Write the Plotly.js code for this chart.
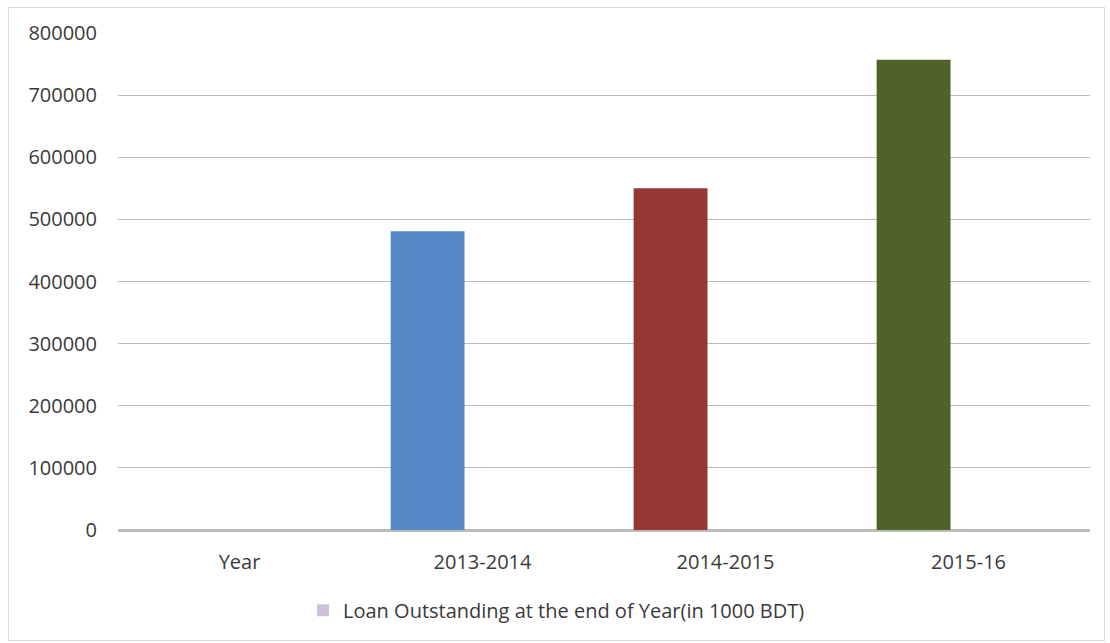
<!DOCTYPE html>
<html>
<head>
<meta charset="utf-8">
<script src="https://cdn.plot.ly/plotly-3.0.1.min.js"></script>
<style>
html,body{margin:0;padding:0;background:#fff;}
#wrap{position:relative;width:1110px;height:643px;}
#chart{width:1110px;height:643px;}
#frame{position:absolute;left:8px;top:7px;width:1095px;height:632px;border:1px solid #d9d9d9;pointer-events:none;}
</style>
</head>
<body>
<div id="wrap"><div id="chart"></div><div id="frame"></div></div>
<script>
const categories = ["Year", "2013-2014", "2014-2015", "2015-16"];
const loanOutstanding = [0, 481000, 550000, 757000];
const barColors = ["#ccc1da", "#558ac6", "#953735", "#4f6228"];
const seriesName = "Loan Outstanding at the end of Year(in 1000 BDT)";
const yTicks = [0, 100000, 200000, 300000, 400000, 500000, 600000, 700000, 800000];

const font = {family: "Open Sans, sans-serif", size: 20, color: "#3a3a3a"};

Plotly.newPlot("chart", [{
  type: "bar",
  x: categories,
  y: loanOutstanding,
  name: seriesName,
  showlegend: true,
  width: 0.304,
  offset: -0.378,
  marker: {color: barColors, line: {width: 0}},
  hoverinfo: "x+y"
}], {
  width: 1110, height: 643,
  margin: {l: 118, r: 20, t: 33, b: 113},
  paper_bgcolor: "#ffffff",
  plot_bgcolor: "#ffffff",
  font: font,
  xaxis: {
    type: "category",
    showgrid: false,
    showline: false,
    zeroline: false,
    ticks: "",
    tickfont: font,
    ticklabelstandoff: 18
  },
  yaxis: {
    range: [0, 800000],
    tickvals: yTicks,
    ticktext: yTicks.map(String),
    showgrid: true,
    gridcolor: "#bcbcbc",
    gridwidth: 1,
    zeroline: true,
    zerolinecolor: "#bcbcbc",
    zerolinewidth: 3,
    showline: false,
    ticks: "",
    tickfont: font,
    ticklabelstandoff: 20
  },
  legend: {
    orientation: "h",
    xref: "container", yref: "container",
    x: 0.273, xanchor: "left",
    y: 0.051, yanchor: "middle",
    itemwidth: 30,
    font: font,
    bgcolor: "rgba(0,0,0,0)"
  }
}, {displayModeBar: false, staticPlot: true});
</script>
</body>
</html>
